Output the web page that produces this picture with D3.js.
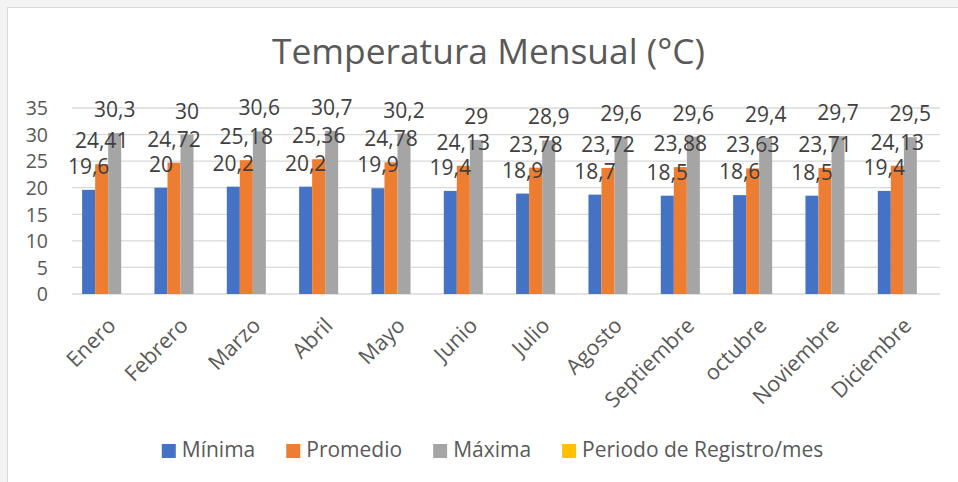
<!DOCTYPE html>
<html>
<head>
<meta charset="utf-8">
<script src="https://cdn.jsdelivr.net/npm/d3@7"></script>
<style>
  html, body { margin: 0; padding: 0; background: #f3f3f3; }
  svg { display: block; }
  text { font-family: "Open Sans", "Noto Sans", sans-serif; }
</style>
</head>
<body>
<script>
const months = ["Enero","Febrero","Marzo","Abril","Mayo","Junio","Julio","Agosto","Septiembre","octubre","Noviembre","Diciembre"];
const seriesNames = ["Mínima","Promedio","Máxima","Periodo de Registro/mes"];
const seriesColors = ["#4472C4","#ED7D31","#A5A5A5","#FFC000"];
const minima   = [19.6, 20, 20.2, 20.2, 19.9, 19.4, 18.9, 18.7, 18.5, 18.6, 18.5, 19.4];
const promedio = [24.41, 24.72, 25.18, 25.36, 24.78, 24.13, 23.78, 23.72, 23.88, 23.63, 23.71, 24.13];
const maxima   = [30.3, 30, 30.6, 30.7, 30.2, 29, 28.9, 29.6, 29.6, 29.4, 29.7, 29.5];
const periodo  = [null, null, null, null, null, null, null, null, null, null, null, null];
const yTicks = [0, 5, 10, 15, 20, 25, 30, 35];
const titleText = "Temperatura Mensual (°C)";

const seriesValues = [minima, promedio, maxima, periodo];

const W = 958, H = 482;
const svg = d3.select("body").append("svg").attr("width", W).attr("height", H);

// frame
svg.append("rect").attr("x", 0).attr("y", 0).attr("width", W).attr("height", H).attr("fill", "#f3f3f3");
svg.append("rect").attr("x", 7.5).attr("y", 7.5).attr("width", W + 20).attr("height", H + 20)
  .attr("fill", "#ffffff").attr("stroke", "#d9d9d9").attr("stroke-width", 1);

const plot = { left: 72, right: 940, top: 108, bottom: 294 };

const x0 = d3.scaleBand().domain(months).range([plot.left, plot.right])
  .paddingInner(0.28).paddingOuter(0.14);
const x1 = d3.scaleBand().domain(d3.range(seriesNames.length)).range([0, x0.bandwidth()]);
const y = d3.scaleLinear().domain([0, 35]).range([plot.bottom, plot.top]);

// gridlines
svg.append("g").selectAll("line").data(yTicks).join("line")
  .attr("x1", plot.left).attr("x2", plot.right)
  .attr("y1", d => y(d)).attr("y2", d => y(d))
  .attr("stroke", "#d9d9d9").attr("stroke-width", d => d === 0 ? 1.5 : 1.3);

// y axis labels
const yAxis = d3.axisLeft(y).tickValues(yTicks).tickSize(0).tickPadding(0);
const yg = svg.append("g").attr("transform", `translate(48,0)`).call(yAxis);
yg.select(".domain").remove();
yg.selectAll("text").attr("font-size", 19.5).attr("fill", "#595959")
  .attr("font-family", '"Open Sans", sans-serif').attr("dy", "0.35em");

// bars
const barData = [];
seriesValues.forEach((vals, si) => {
  vals.forEach((v, mi) => { if (v != null) barData.push({ si, m: months[mi], v }); });
});
svg.append("g").selectAll("rect").data(barData).join("rect")
  .attr("x", d => x0(d.m) + x1(d.si))
  .attr("y", d => y(d.v))
  .attr("width", x1.bandwidth())
  .attr("height", d => y(0) - y(d.v))
  .attr("fill", d => seriesColors[d.si]);

// data labels
const fmt = v => String(v).replace(".", ",");
svg.append("g").selectAll("text").data(barData).join("text")
  .attr("x", d => x0(d.m) + x1(d.si) + x1.bandwidth() / 2)
  .attr("y", d => y(d.v) - 16)
  .attr("text-anchor", "middle")
  .attr("font-size", 21)
  .attr("fill", "#404040")
  .text(d => fmt(d.v));

// x axis labels
const xAxis = d3.axisBottom(x0).tickSize(0).tickPadding(0);
const xg = svg.append("g").attr("transform", `translate(0,${plot.bottom})`).call(xAxis);
xg.select(".domain").remove();
xg.selectAll(".tick text")
  .attr("font-size", 21.5).attr("fill", "#595959")
  .attr("font-family", '"Open Sans", sans-serif')
  .attr("text-anchor", "end")
  .attr("dy", "0.72em")
  .attr("transform", "translate(-2,22) rotate(-45)");

// title
svg.append("text").attr("x", 488.5).attr("y", 64.3)
  .attr("text-anchor", "middle")
  .attr("font-size", 35).attr("fill", "#595959")
  .attr("textLength", 433).attr("lengthAdjust", "spacingAndGlyphs")
  .text(titleText);

// legend
const lg = svg.append("g");
const items = lg.selectAll("g").data(seriesNames).join("g");
items.append("rect").attr("width", 14).attr("height", 14).attr("y", -13)
  .attr("fill", (d, i) => seriesColors[i]);
items.append("text").attr("x", 20).attr("y", 0)
  .attr("font-size", 21).attr("fill", "#595959").text(d => d);
let cx = 0;
const pos = [];
items.each(function(d, i) {
  const w = 20 + this.querySelector("text").getComputedTextLength();
  pos.push(cx);
  cx += w + 31;
});
const total = cx - 31;
const startX = 492.5 - total / 2;
items.attr("transform", (d, i) => `translate(${startX + pos[i]},457)`);
</script>
</body>
</html>
